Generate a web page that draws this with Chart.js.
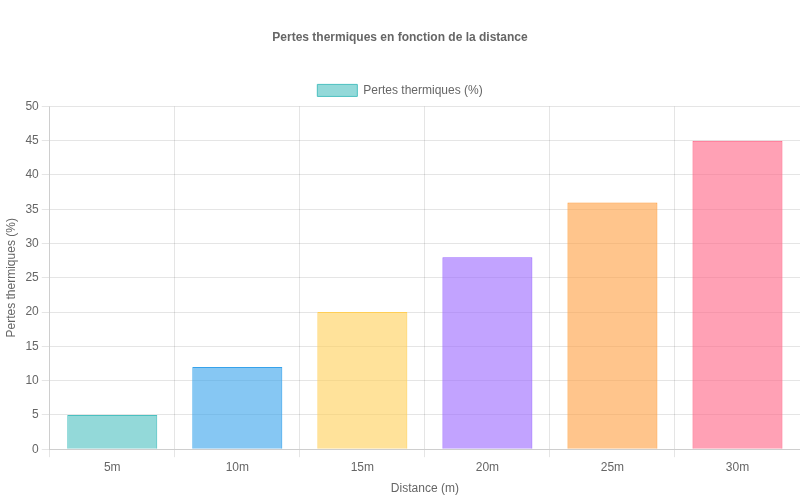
<!DOCTYPE html>
<html>
<head>
<meta charset="utf-8">
<script src="https://cdn.jsdelivr.net/npm/chart.js@4"></script>
<style>
    html, body { margin: 0; padding: 0; background: #fff; }
    #wrap { width: 800px; height: 500px; }
</style>
</head>
<body>
<div id="wrap"><canvas id="lossChart"></canvas></div>
<script>
const distances = ['5m', '10m', '15m', '20m', '25m', '30m'];
const losses = [5, 12, 20, 28, 36, 45];
const fillColors = [
    'rgba(75, 192, 192, 0.6)',
    'rgba(54, 162, 235, 0.6)',
    'rgba(255, 206, 86, 0.6)',
    'rgba(153, 102, 255, 0.6)',
    'rgba(255, 159, 64, 0.6)',
    'rgba(255, 99, 132, 0.6)'
];
const borderColors = [
    'rgba(75, 192, 192, 1)',
    'rgba(54, 162, 235, 1)',
    'rgba(255, 206, 86, 1)',
    'rgba(153, 102, 255, 1)',
    'rgba(255, 159, 64, 1)',
    'rgba(255, 99, 132, 1)'
];

Chart.defaults.font.family = '"Liberation Sans", Arial, sans-serif';
Chart.defaults.color = '#666';

new Chart(document.getElementById('lossChart'), {
    type: 'bar',
    data: {
        labels: distances,
        datasets: [{
            label: 'Pertes thermiques (%)',
            data: losses,
            backgroundColor: fillColors,
            borderColor: borderColors,
            borderWidth: 1
        }]
    },
    options: {
        responsive: true,
        maintainAspectRatio: false,
        animation: false,
        plugins: {
            title: {
                display: true,
                text: 'Pertes thermiques en fonction de la distance',
                font: { size: 12, weight: 'bold' },
                padding: { top: 30, bottom: 30 }
            },
            legend: { position: 'top' }
        },
        scales: {
            x: {
                title: { display: true, text: 'Distance (m)' }
            },
            y: {
                beginAtZero: true,
                max: 50,
                ticks: { stepSize: 5 },
                title: { display: true, text: 'Pertes thermiques (%)' }
            }
        }
    }
});
</script>
</body>
</html>
